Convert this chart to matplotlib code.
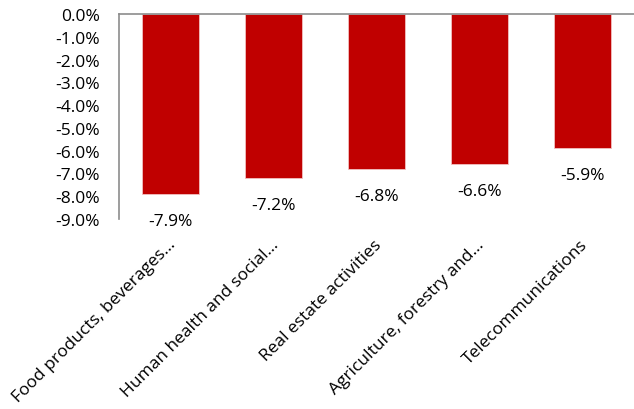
import matplotlib.pyplot as plt
import numpy as np

categories = ["Food products, beverages...", "Human health and social...",
              "Real estate activities", "Agriculture, forestry and...",
              "Telecommunications"]
values = [-7.9, -7.2, -6.8, -6.6, -5.9]
yticks = [0, -1, -2, -3, -4, -5, -6, -7, -8, -9]

plt.rcParams['font.family'] = ['Open Sans', 'DejaVu Sans']

fig = plt.figure(figsize=(6.34, 4.10), dpi=100)
ax = fig.add_axes([119/634, 1 - 220/410, 1 - 119/634, 205/410])

x = np.arange(len(categories))
ax.bar(x, values, width=0.56, color='#C00000', edgecolor='#F2C0C0', linewidth=0.6)

# value labels under each bar
for xi, v in zip(x, values):
    ax.annotate(f"{v:.1f}%", (xi, v), xytext=(0, -13.5), textcoords='offset points',
                ha='center', va='top', fontsize=12.5)

ax.set_ylim(-9, 0)
ax.set_xlim(-0.5, 4.5)
ax.set_yticks(yticks)
ax.set_yticklabels([f"{t:.1f}%" for t in yticks], fontsize=12.5)
ax.tick_params(axis='y', length=0, pad=14)
ax.set_xticks([])

# rotated category labels
for xi, c in zip(x, categories):
    ax.text(xi - 0.03, -9.75, c, rotation=45, ha='right', va='top',
            rotation_mode='anchor', fontsize=12.5)

ax.spines['right'].set_visible(False)
ax.spines['bottom'].set_visible(False)
ax.spines['top'].set_color('#8c8c8c')
ax.spines['left'].set_color('#8c8c8c')
ax.spines['top'].set_linewidth(1.2)
ax.spines['left'].set_linewidth(1.2)

fig.savefig('out.png', dpi=100)
